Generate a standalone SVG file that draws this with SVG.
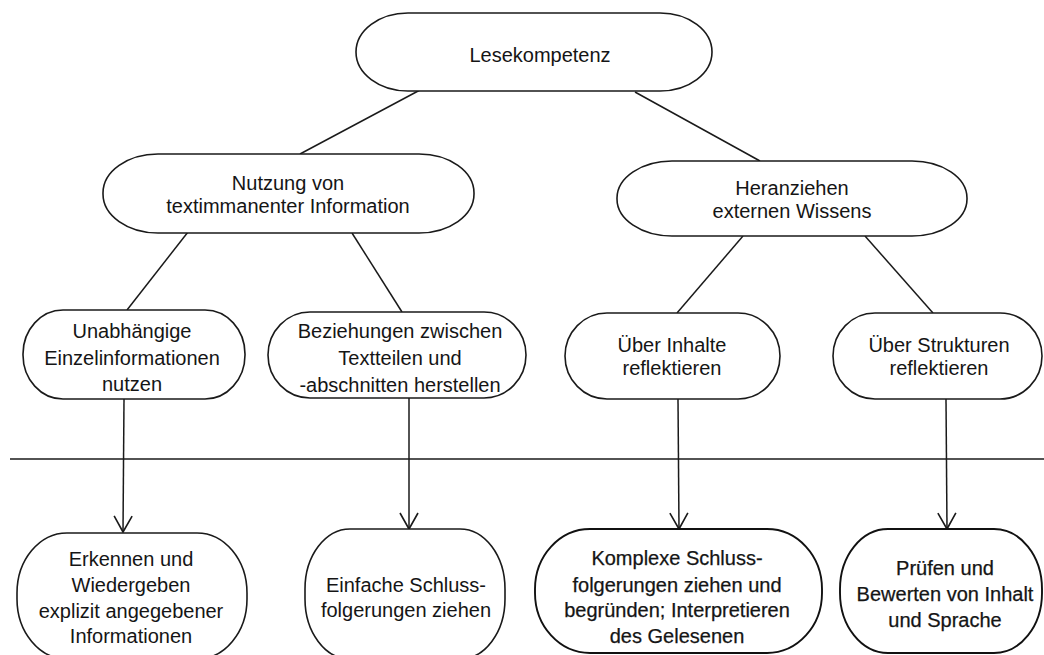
<svg xmlns="http://www.w3.org/2000/svg" width="1044" height="655" viewBox="0 0 1044 655">
<style>
.n{fill:#fff;stroke:#1a1a1a;stroke-width:1.6}
.nb{fill:#fff;stroke:#111;stroke-width:1.9}
.t{font-family:"Liberation Sans",Arial,Helvetica,sans-serif;font-size:20px;fill:#151515;text-anchor:middle}
.tb{stroke:#151515;stroke-width:0.25}
.c{fill:none;stroke:#1a1a1a;stroke-width:1.5}
</style>
<defs>
<marker id="arr" markerUnits="userSpaceOnUse" viewBox="-18 -11 20 22" markerWidth="20" markerHeight="22" refX="0" refY="0" orient="auto">
<path d="M-16,-9 L0,0 L-16,9" fill="none" stroke="#1a1a1a" stroke-width="1.6"/>
</marker>
</defs>
<rect width="1044" height="655" fill="#fff"/>
<g id="connectors">
<line class="c" x1="420" y1="90" x2="300" y2="154"/>
<line class="c" x1="635" y1="92" x2="760" y2="161"/>
<line class="c" x1="188" y1="232" x2="127" y2="310"/>
<line class="c" x1="352" y1="233" x2="402" y2="312"/>
<line class="c" x1="743" y1="236" x2="677" y2="313"/>
<line class="c" x1="865" y1="236" x2="933" y2="313"/>
<line class="c" x1="10" y1="459" x2="1044" y2="459"/>
<line class="c" x1="124" y1="399" x2="123" y2="532" marker-end="url(#arr)"/>
<line class="c" x1="409" y1="398" x2="409" y2="529" marker-end="url(#arr)"/>
<line class="c" x1="678" y1="399" x2="679" y2="529" marker-end="url(#arr)"/>
<line class="c" x1="946" y1="399" x2="947" y2="529" marker-end="url(#arr)"/>
</g>
<g id="lesekompetenz">
<rect class="n" x="356" y="13" width="356" height="78" rx="52" ry="39"/>
<text class="t" x="540" y="62">Lesekompetenz</text>
</g>
<g id="nutzung">
<rect class="n" x="103" y="154" width="371" height="79" rx="55" ry="39"/>
<text class="t" x="288" y="190">Nutzung von</text>
<text class="t" x="288" y="213">textimmanenter Information</text>
</g>
<g id="heranziehen">
<rect class="n" x="617" y="161" width="350" height="75" rx="55" ry="37"/>
<text class="t" x="792" y="195">Heranziehen</text>
<text class="t" x="792" y="218">externen Wissens</text>
</g>
<g id="unabhaengige">
<rect class="n" x="23" y="310" width="222" height="89" rx="40" ry="44"/>
<text class="t" x="132" y="338">Unabhängige</text>
<text class="t" x="132" y="365">Einzelinformationen</text>
<text class="t" x="132" y="391">nutzen</text>
</g>
<g id="beziehungen">
<rect class="n" x="268" y="312" width="258" height="86" rx="42" ry="43"/>
<text class="t" x="400" y="338">Beziehungen zwischen</text>
<text class="t" x="400" y="365">Textteilen und</text>
<text class="t" x="400" y="392">-abschnitten herstellen</text>
</g>
<g id="inhalte">
<rect class="n" x="565" y="313" width="215" height="86" rx="42" ry="43"/>
<text class="t" x="672" y="352">Über Inhalte</text>
<text class="t" x="672" y="375">reflektieren</text>
</g>
<g id="strukturen">
<rect class="n" x="833" y="313" width="209" height="86" rx="42" ry="43"/>
<text class="t" x="939" y="352">Über Strukturen</text>
<text class="t" x="939" y="375">reflektieren</text>
</g>
<g id="erkennen">
<rect class="n" x="17" y="533" width="230" height="126" rx="50" ry="60"/>
<text class="t" x="131" y="566">Erkennen und</text>
<text class="t" x="131" y="592">Wiedergeben</text>
<text class="t" x="131" y="618">explizit angegebener</text>
<text class="t" x="131" y="643">Informationen</text>
</g>
<g id="einfache">
<rect class="n" x="305" y="529" width="200" height="130" rx="45" ry="60"/>
<text class="t" x="406" y="592">Einfache Schluss-</text>
<text class="t" x="406" y="617">folgerungen ziehen</text>
</g>
<g id="komplexe">
<rect class="nb" x="535" y="529" width="287" height="124" rx="55" ry="60"/>
<text class="t tb" x="677" y="565">Komplexe Schluss-</text>
<text class="t tb" x="677" y="592">folgerungen ziehen und</text>
<text class="t tb" x="677" y="617">begründen; Interpretieren</text>
<text class="t tb" x="677" y="643">des Gelesenen</text>
</g>
<g id="pruefen">
<rect class="nb" x="840" y="529" width="202" height="124" rx="48" ry="60"/>
<text class="t tb" x="945" y="575">Prüfen und</text>
<text class="t tb" x="945" y="601">Bewerten von Inhalt</text>
<text class="t tb" x="945" y="627">und Sprache</text>
</g>
</svg>
